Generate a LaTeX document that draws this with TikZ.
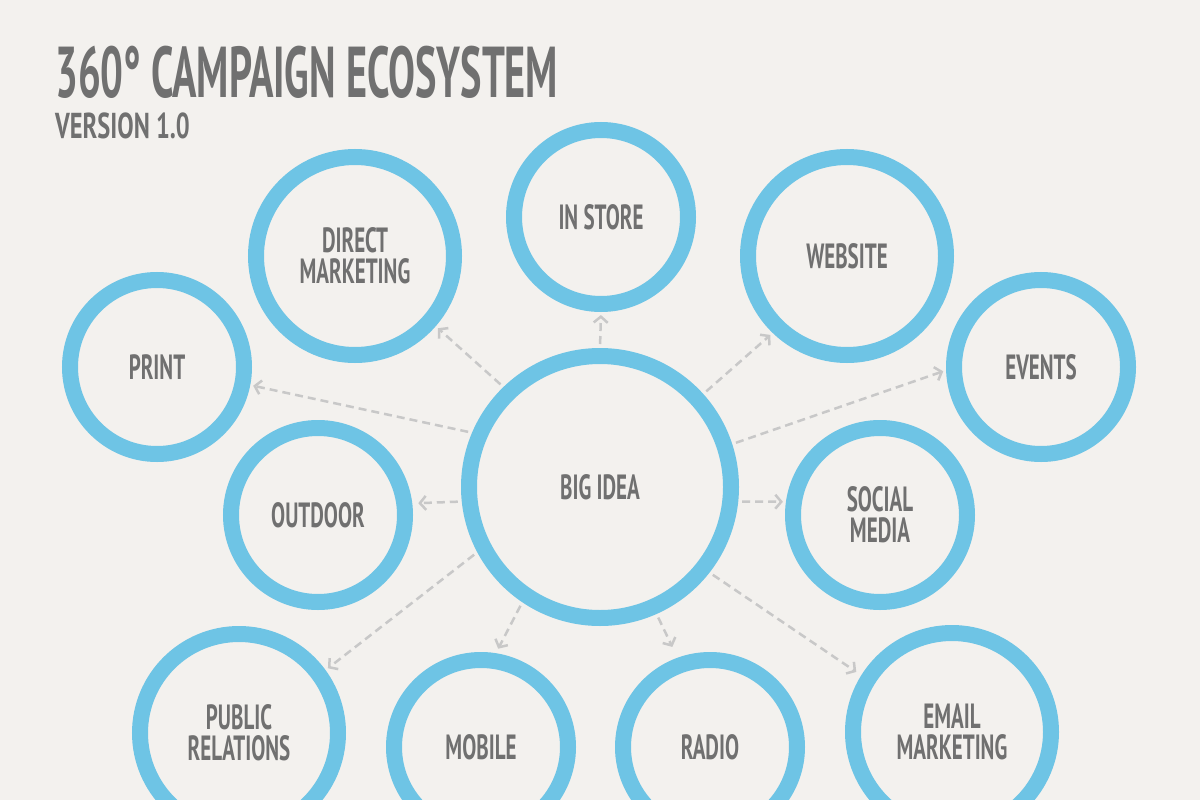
\documentclass[tikz,border=0pt]{standalone}
\usepackage{fontspec}
\setmainfont{PT Sans}
\newfontfamily\condfont[FakeStretch=0.6]{PT Sans}
\newfontfamily\headfont[FakeStretch=0.56]{PT Sans}
\newfontfamily\subfont[FakeStretch=0.68]{PT Sans}
\usetikzlibrary{arrows.meta}

\definecolor{paper}{HTML}{F3F1EE}
\definecolor{ringblue}{HTML}{6EC4E5}
\definecolor{labelgray}{HTML}{707070}
\definecolor{arrowgray}{HTML}{C8C8C8}

\begin{document}
\begin{tikzpicture}[x=1pt, y=-1pt,
  every node/.style={text=labelgray, align=center, font=\condfont\bfseries\fontsize{35}{31}\selectfont},
  ring/.style={circle, draw=ringblue, line width=16pt, inner sep=0pt, minimum size=174pt},
  wide ring/.style={ring, minimum size=198pt},
  hub/.style={ring, minimum size=262pt},
  flow/.style={draw=arrowgray, line width=2.5pt, dash pattern=on 8pt off 5pt,
    -{Straight Barb[length=6pt, width=14pt]}, shorten <=4pt, shorten >=3pt}]
\useasboundingbox (0,0) rectangle (1200,800);
\fill[paper] (0,0) rectangle (1200,800);

% heading
\node[anchor=base west, inner sep=0pt, text depth=0pt, font=\headfont\bfseries\fontsize{72}{72}\selectfont] (title) at (55,98) {360° CAMPAIGN ECOSYSTEM};
\node[anchor=base west, inner sep=0pt, text height=21pt, text depth=0pt, font=\subfont\bfseries\fontsize{36}{36}\selectfont] (version) at (55,138) {VERSION 1.0};

% circles
\node[hub] (big) at (600,487) {BIG IDEA};
\node[ring] (instore) at (601,217) {IN STORE};
\node[wide ring] (direct) at (355,256) {DIRECT\\MARKETING};
\node[wide ring] (website) at (847,256) {WEBSITE};
\node[ring] (print) at (157,367) {PRINT};
\node[ring] (events) at (1041,367) {EVENTS};
\node[ring] (outdoor) at (318,515) {OUTDOOR};
\node[ring] (social) at (880,515) {SOCIAL\\MEDIA};
\node[wide ring] (pr) at (239,733) {PUBLIC\\RELATIONS};
\node[ring] (mobile) at (481,747) {MOBILE};
\node[ring] (radio) at (710,747) {RADIO};
\node[wide ring] (email) at (952,732) {EMAIL\\MARKETING};

% arrows out of the big idea
\draw[flow] (big.90) -- (instore.-90);
\draw[flow] (big.134) -- (direct.-41);
\draw[flow] (big.42) -- (website.226);
\draw[flow] (big.18) -- (events.182);
\draw[flow] (big.157) -- (print.-11);
\draw[flow, shorten >=6pt] (big.186) -- (outdoor.7);
\draw[flow] (big.-6) -- (social.172);
\draw[flow] (big.208) -- (pr.36);
\draw[flow, shorten >=5pt] (big.236) -- (mobile.81);
\draw[flow, shorten >=12pt] (big.294) -- (radio.110);
\draw[flow, shorten >=6pt] (big.-38) -- (email.148);
\end{tikzpicture}
\end{document}
